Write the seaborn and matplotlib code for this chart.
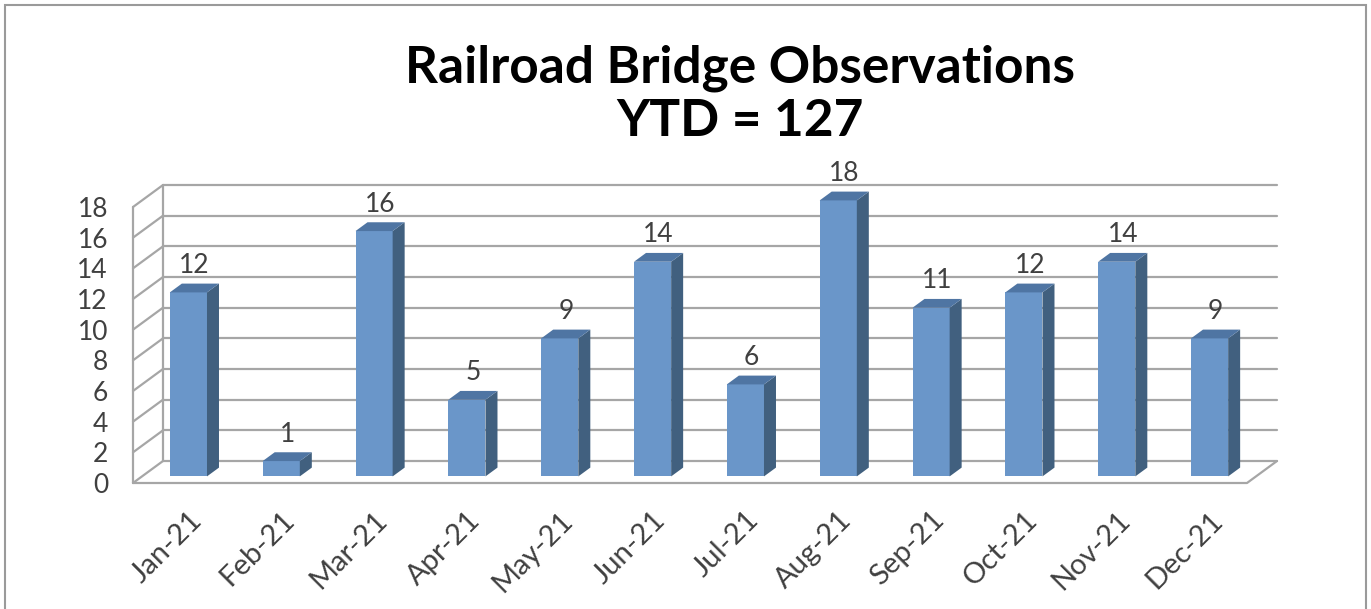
import numpy as np
import pandas as pd
import matplotlib
matplotlib.use('Agg')
import matplotlib.pyplot as plt
from matplotlib.patches import Polygon, Rectangle
import seaborn as sns

# data
months = ['Jan-21', 'Feb-21', 'Mar-21', 'Apr-21', 'May-21', 'Jun-21',
          'Jul-21', 'Aug-21', 'Sep-21', 'Oct-21', 'Nov-21', 'Dec-21']
counts = [12, 1, 16, 5, 9, 14, 6, 18, 11, 12, 14, 9]
y_ticks = list(range(0, 19, 2))
title = 'Railroad Bridge Observations'
subtitle = 'YTD = 127'

front_color = '#6A96C9'
side_color = '#41607F'
top_color = '#4F75A3'
grid_color = '#A6A6A6'
text_color = '#404040'

sns.set_theme(style='white')
plt.rcParams['font.family'] = ['Lato', 'DejaVu Sans']

W, H = 1371, 609
fig = plt.figure(figsize=(W / 100, H / 100), dpi=100)
# axes cover the front plane plus the depth of the back wall (pixels from the reference)
ax = fig.add_axes([133 / W, 1 - 483 / H, (1277 - 133) / W, (483 - 185) / H])

n = len(months)
DX = 30 * n / (1277 - 133 - 30)   # depth of the back wall in x data units
DY = 22 * 18 / (483 - 185 - 22)   # depth of the back wall in y data units
d0, d1 = 0.3, 0.7                 # front / back depth of the bars

df = pd.DataFrame({'month': months, 'count': counts})
sns.barplot(data=df, x='month', y='count', color=front_color, saturation=1,
            width=0.4, ax=ax, zorder=3, linewidth=0)

# walls and floor
lw = 1.6
for v in y_ticks:
    ax.plot([-0.5 + DX, n - 0.5 + DX], [v + DY, v + DY], color=grid_color, lw=lw, zorder=1, clip_on=False)
    ax.plot([-0.5, -0.5 + DX], [v, v + DY], color=grid_color, lw=lw, zorder=1, clip_on=False)
ax.plot([-0.5, -0.5], [0, y_ticks[-1]], color=grid_color, lw=lw, zorder=1, clip_on=False)
ax.plot([-0.5 + DX, -0.5 + DX], [DY, y_ticks[-1] + DY], color=grid_color, lw=lw, zorder=1, clip_on=False)
ax.plot([-0.5, n - 0.5, n - 0.5 + DX], [0, 0, DY], color=grid_color, lw=lw, zorder=1, clip_on=False)

# give the bars their side and top faces
ddx, ddy = (d1 - d0) * DX, (d1 - d0) * DY
centers = []
for p in ax.patches:
    x0 = p.get_x() + d0 * DX
    y0 = d0 * DY
    w, h = p.get_width(), p.get_height()
    p.set_x(x0)
    p.set_y(y0)
    side = Polygon([(x0 + w, y0), (x0 + w + ddx, y0 + ddy), (x0 + w + ddx, y0 + h + ddy), (x0 + w, y0 + h)],
                   closed=True, facecolor=side_color, edgecolor='none', zorder=3)
    top = Polygon([(x0, y0 + h), (x0 + w, y0 + h), (x0 + w + ddx, y0 + h + ddy), (x0 + ddx, y0 + h + ddy)],
                  closed=True, facecolor=top_color, edgecolor='none', zorder=3)
    ax.add_patch(side)
    ax.add_patch(top)
    centers.append(x0 + w / 2)
    ax.annotate(f'{h:g}', (x0 + w / 2 + ddx / 2, h + d1 * DY), xytext=(0, 4), textcoords='offset points',
                ha='center', va='bottom', fontsize=19, color=text_color, zorder=4)

ax.set_xlim(-0.5, n - 0.5 + DX)
ax.set_ylim(0, y_ticks[-1] + DY)
ax.set_xticks(centers, months)
ax.set_yticks(y_ticks)
ax.set_xlabel('')
ax.set_ylabel('')
for lab in ax.get_xticklabels():
    lab.set_rotation(45)
    lab.set_ha('right')
    lab.set_rotation_mode('anchor')
ax.tick_params(axis='x', length=0, pad=17, labelsize=21, colors=text_color)
ax.tick_params(axis='y', length=0, pad=18, labelsize=19, colors=text_color)
for s in ax.spines.values():
    s.set_visible(False)
ax.set_facecolor('none')

fig.text(740 / W, 1 - 82 / H, title, ha='center', va='baseline', fontsize=37, fontweight='bold', color='black')
fig.text(740 / W, 1 - 136 / H, subtitle, ha='center', va='baseline', fontsize=37, fontweight='bold', color='black')

# chart border
fig.add_artist(Rectangle((5 / W, -0.05), (1366 - 5) / W, 1.05 - 5 / H, transform=fig.transFigure,
                         fill=False, edgecolor='#9A9A9A', lw=1.5))

fig.savefig('out.png', dpi=100)
